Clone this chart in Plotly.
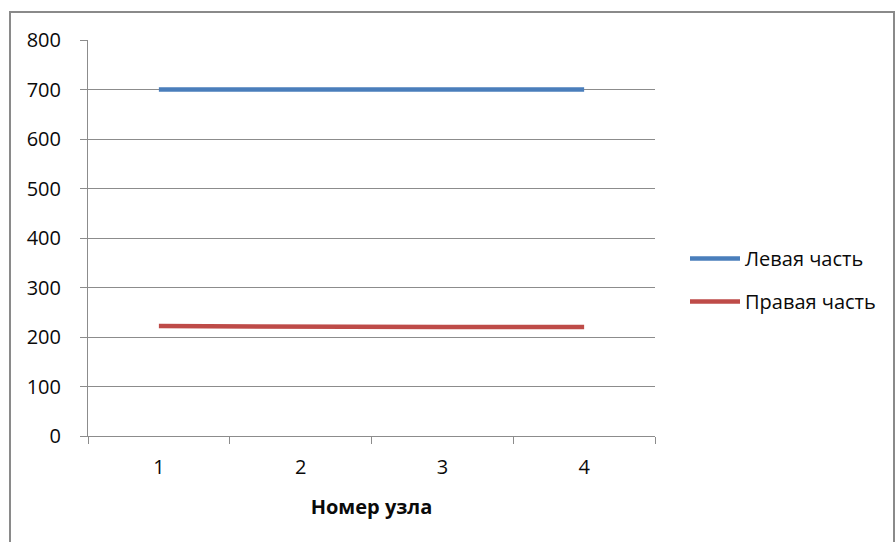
import plotly.graph_objects as go

# Node numbers and the two series
nodes = ["1", "2", "3", "4"]
left_part = [700, 700, 700, 700]
right_part = [222, 220, 220, 220]
y_ticks = [0, 100, 200, 300, 400, 500, 600, 700, 800]

FONT = "Open Sans"
GRID = "#8c8c8c"
FS = 20

fig = go.Figure()
fig.add_trace(go.Scatter(
    x=nodes, y=left_part, mode="lines", name="Левая часть",
    line=dict(color="#4a7ebb", width=4.5), legendgroup="a",
))
fig.add_trace(go.Scatter(
    x=nodes, y=right_part, mode="lines", name="Правая часть",
    line=dict(color="#be4b48", width=4.5), legendgroup="b",
))

# Outer chart frame
fig.add_shape(
    type="rect", xref="paper", yref="paper",
    x0=(10 - 88) / 567, x1=(894 - 88) / 567,
    y0=(436 - 560) / 396, y1=(436 - 12) / 396,
    line=dict(color="#8a8a8a", width=2), fillcolor="rgba(0,0,0,0)",
    layer="below",
)

fig.update_layout(
    width=895, height=542,
    margin=dict(l=88, r=240, t=40, b=106),
    paper_bgcolor="white", plot_bgcolor="white",
    font=dict(family=FONT, size=FS, color="#0a0a0a"),
    xaxis=dict(
        type="category", range=[-0.5, 3.5], tickson="boundaries",
        ticks="outside", ticklen=7, tickcolor=GRID, showgrid=False,
        showline=True, linecolor=GRID, linewidth=1, zeroline=False,
        tickfont=dict(size=FS), ticklabelstandoff=13,
        title=dict(text="<b>Номер узла</b>", font=dict(size=FS), standoff=20),
    ),
    yaxis=dict(
        range=[0, 800], tickvals=y_ticks, ticks="outside", ticklen=7,
        tickcolor=GRID, showgrid=True, gridcolor=GRID, gridwidth=1,
        showline=True, linecolor=GRID, linewidth=1, zeroline=False,
        tickfont=dict(size=FS), ticklabelstandoff=15,
    ),
    legend=dict(
        x=(685 - 88) / 567, xanchor="left", y=(436 - 280) / 396,
        yanchor="middle", font=dict(size=FS), tracegroupgap=14,
        itemwidth=50, bgcolor="rgba(0,0,0,0)",
    ),
    showlegend=True,
)

fig.write_html("out.html")
